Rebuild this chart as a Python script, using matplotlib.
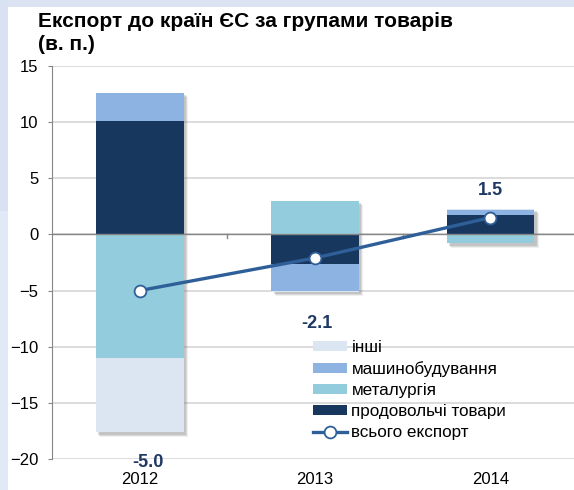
import numpy as np
import matplotlib.pyplot as plt
from matplotlib.patches import Rectangle
import matplotlib.transforms as mtransforms

plt.rcParams['font.family'] = ['Liberation Sans', 'DejaVu Sans']

years = ['2012', '2013', '2014']

# внески груп товарів, в. п.
food = [10.1, -2.6, 1.7]        # продовольчі товари
metal = [-11.0, 3.0, -0.8]      # металургія
machinery = [2.5, -2.4, 0.5]    # машинобудування
other = [-6.6, -0.1, 0.1]       # інші
total = [-5.0, -2.1, 1.5]       # всього експорт

series = [
    ('продовольчі товари', food, '#17375e'),
    ('металургія', metal, '#93cddd'),
    ('машинобудування', machinery, '#8db3e2'),
    ('інші', other, '#dce6f2'),
]

fig = plt.figure(figsize=(5.74, 4.90), dpi=100)
fig.patch.set_facecolor('white')

# світло-блакитна рамка зверху та зліва
fig.patches.append(Rectangle((0, 1 - 7 / 490), 1, 7 / 490, transform=fig.transFigure,
                             facecolor='#dbe3f3', edgecolor='none', zorder=0))
fig.patches.append(Rectangle((0, 1 - 211 / 490), 8 / 574, 211 / 490, transform=fig.transFigure,
                             facecolor='#d9e2f3', edgecolor='none', zorder=0))
fig.patches.append(Rectangle((0, 0), 8 / 574, 1 - 211 / 490, transform=fig.transFigure,
                             facecolor='#e0eaf6', edgecolor='none', zorder=0))

ax = fig.add_axes([52 / 574, 1 - 459 / 490, 526 / 574, 393 / 490])
ax.set_facecolor('none')

x = np.arange(len(years))
width = 0.5

# окремі стеки для додатних і від'ємних значень
pos_base = np.zeros(len(years))
neg_base = np.zeros(len(years))
bar_handles = {}
for name, vals, color in series:
    vals = np.array(vals)
    base = np.where(vals >= 0, pos_base, neg_base)
    bar_handles[name] = ax.bar(x, vals, width, bottom=base, color=color, label=name,
                               zorder=3, linewidth=0)
    pos_base += np.where(vals >= 0, vals, 0)
    neg_base += np.where(vals < 0, vals, 0)

# м'яка тінь під кожним стовпчиком
for i in range(len(years)):
    for k, a in zip([4.5, 3.5, 2.5], [0.12, 0.18, 0.25]):
        tr = mtransforms.offset_copy(ax.transData, fig=fig, x=k * 0.72, y=-k * 0.72, units='points')
        ax.add_patch(Rectangle((x[i] - width / 2, neg_base[i]), width, pos_base[i] - neg_base[i],
                               transform=tr, facecolor='#7f7f7f', alpha=a, edgecolor='none', zorder=2))

line, = ax.plot(x, total, color='#2f5f98', lw=2.4, marker='o', markersize=8.5,
                markerfacecolor='white', markeredgecolor='#2f5f98', markeredgewidth=1.3,
                zorder=5, label='всього експорт')

# підписи підсумку
label_y = [-20.3, -7.9, 3.9]
label_dx = [0.045, 0.01, 0.0]
for xi, v, ly, dx in zip(x, total, label_y, label_dx):
    ax.text(xi + dx, ly, f'{v:.1f}', ha='center', va='center', fontsize=13,
            fontweight='bold', color='#1f3864', zorder=6)

ax.set_ylim(-20, 15)
ax.set_xlim(-0.5, 2.5)
ax.set_yticks(np.arange(-20, 16, 5))
ax.yaxis.grid(True, color='#d9d9d9', lw=1.3, zorder=0)
ax.set_axisbelow(True)
ax.axhline(0, color='#868686', lw=1.0, zorder=4)

# поділки між категоріями на нульовій лінії
for b in [0.5, 1.5]:
    ax.plot([b, b], [0, -0.35], color='#868686', lw=1.0, zorder=4, clip_on=False)

for s in ['top', 'right', 'bottom']:
    ax.spines[s].set_visible(False)
ax.spines['left'].set_color('#868686')
ax.tick_params(axis='y', length=3.2, color='#868686', labelsize=12, pad=6.5)
ax.set_xticks(x)
ax.set_xticklabels(years)
ax.tick_params(axis='x', length=0, labelsize=12, pad=9)

fig.text(38 / 574, 1 - 12 / 490, 'Експорт до країн ЄС за групами товарів\n(в. п.)',
         ha='left', va='top', fontsize=15, fontweight='bold', linespacing=1.3)

order = ['інші', 'машинобудування', 'металургія', 'продовольчі товари']
handles = [bar_handles[n] for n in order] + [line]
labels = order + ['всього експорт']
ax.legend(handles, labels,
          loc='upper left', bbox_to_anchor=((313 - 52) / 526, (459 - 340) / 393),
          frameon=False, fontsize=12.3, handlelength=2.0, handleheight=0.5,
          handletextpad=0.25, labelspacing=0.36, borderaxespad=0, borderpad=0)

fig.savefig('out.png', dpi=100)
